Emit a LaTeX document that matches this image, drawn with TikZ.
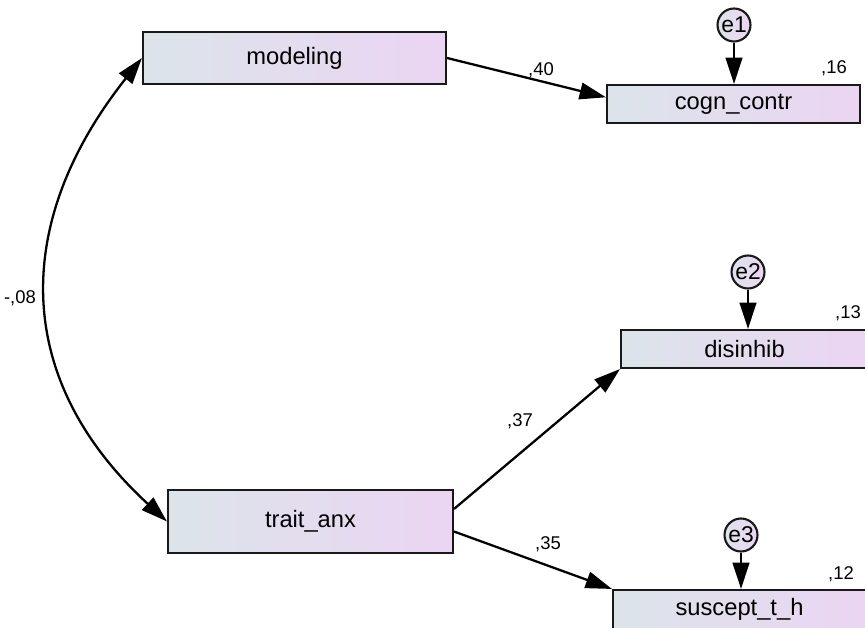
\documentclass[tikz,border=0pt]{standalone}
\usepackage{fontspec}
\setmainfont{Liberation Sans}
\usetikzlibrary{arrows.meta}
\definecolor{boxleft}{RGB}{220,228,234}
\definecolor{boxright}{RGB}{235,213,243}
\tikzset{
    var/.style={draw=black!90, line width=1.2pt, left color=boxleft, right color=boxright,
        inner sep=0pt, font=\fontsize{13.5}{15}\selectfont},
    err/.style={circle, draw=black!90, line width=1.2pt, left color=boxleft, right color=boxright,
        minimum size=0.66cm, inner sep=0pt, font=\fontsize{13}{14}\selectfont},
    arr/.style={line width=1.3pt, -{Triangle[length=15pt,width=9.5pt]}},
    dbl/.style={line width=1.3pt, {Triangle[length=15pt,width=9.5pt]}-{Triangle[length=15pt,width=9.5pt]}},
    coef/.style={inner sep=0pt, font=\fontsize{10.5}{12}\selectfont}
}
\begin{document}
\begin{tikzpicture}[x=0.02cm, y=-0.02cm]
                \useasboundingbox (0,0) rectangle (865,628);

                \node[var, minimum width=6.06cm, minimum height=1.04cm] (modeling) at (294.5,58) {modeling};
                \node[var, minimum width=5.06cm, minimum height=0.76cm] (cogn) at (733.5,104) {cogn\_contr};
                \node[var, minimum width=4.94cm, minimum height=0.76cm] (disinhib) at (744.5,349) {disinhib};
                \node[var, minimum width=5.7cm, minimum height=1.26cm] (trait) at (310.5,521.5) {trait\_anx};
                \node[var, minimum width=5.06cm, minimum height=0.78cm] (suscept) at (739.5,609.5) {suscept\_t\_h};

                \node[err] (e1) at (734,25) {e1};
                \node[err] (e2) at (748,272) {e2};
                \node[err] (e3) at (741,535) {e3};

                \draw[arr] (e1) -- (e1 |- cogn.north);
                \draw[arr] (e2) -- (e2 |- disinhib.north);
                \draw[arr] (e3) -- (e3 |- suscept.north);

                \draw[arr] (modeling.east) -- (cogn.177);
                \draw[arr] (trait.5) -- (disinhib.south west);
                \draw[arr] (trait.-4) -- (suscept.north west);
                \draw[dbl] (modeling.west) .. controls (12,222) and (12,379) .. (trait.west);

                \node[coef] (c40) at (541,70) {,40};
                \node[coef] (c16) at (834,68) {,16};
                \node[coef] (c13) at (848,313) {,13};
                \node[coef] (c37) at (520,421) {,37};
                \node[coef] (c35) at (548,544) {,35};
                \node[coef] (c12) at (841,574) {,12};
                \node[coef] (c08) at (20,298) {-,08};
\end{tikzpicture}
\end{document}
